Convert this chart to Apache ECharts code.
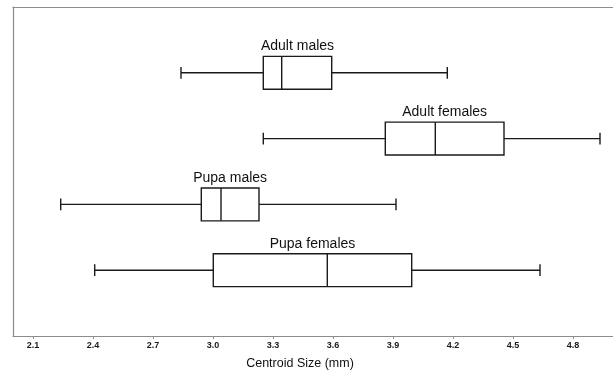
<!DOCTYPE html>
<html>
<head>
<meta charset="utf-8">
<script src="https://cdn.jsdelivr.net/npm/echarts@6/dist/echarts.min.js"></script>
<style>html,body{margin:0;padding:0;background:#fff;}#c{width:613px;height:372px;}</style>
</head>
<body>
<div id="c"></div>
<script>
var groups = ['Adult males', 'Adult females', 'Pupa males', 'Pupa females'];
var whiskerLow = [2.84, 3.2515, 2.2385, 2.4085];
var q1 = [3.2515, 3.8615, 2.9415, 3.0015];
var median = [3.3435, 4.1115, 3.04, 3.5715];
var q3 = [3.5935, 4.455, 3.23, 3.9935];
var whiskerHigh = [4.1715, 4.935, 3.915, 4.635];
var tickValues = [2.1, 2.4, 2.7, 3.0, 3.3, 3.6, 3.9, 4.2, 4.5, 4.8];
var axisTitle = 'Centroid Size (mm)';

var yCats = [''].concat(groups).concat(['']);
var data = groups.map(function (g, i) {
  return [i + 1, whiskerLow[i], q1[i], median[i], q3[i], whiskerHigh[i], g];
});

var chart = echarts.init(document.getElementById('c'), null, {renderer: 'canvas'});
var lineStyle = {stroke: '#1a1a1a', lineWidth: 1.4, fill: null};
var frameColor = '#8c8c8c';

chart.setOption({
  animation: false,
  grid: {left: 13, right: 0, top: 7, bottom: 36, containLabel: false, outerBoundsMode: 'none'},
  xAxis: [{
    type: 'value', min: 2.0, max: 5.0, position: 'bottom',
    axisLine: {show: true, lineStyle: {color: frameColor, width: 1.2}},
    axisTick: {show: true, customValues: tickValues, length: 3, lineStyle: {color: frameColor}},
    axisLabel: {customValues: tickValues, fontSize: 9, fontWeight: 'bold', color: '#1a1a1a', margin: 5,
      fontFamily: 'Liberation Sans', formatter: function (v) { return v.toFixed(1); }},
    splitLine: {show: false},
    name: axisTitle, nameLocation: 'middle', nameGap: 21,
    nameTextStyle: {fontSize: 12.5, color: '#111', fontFamily: 'Liberation Sans', padding: [0, 26, 0, 0]}
  }, {
    type: 'value', min: 2.0, max: 5.0, position: 'top',
    axisLine: {show: true, onZero: false, lineStyle: {color: frameColor, width: 1.2}},
    axisTick: {show: false}, axisLabel: {show: false}, splitLine: {show: false}
  }],
  yAxis: {
    type: 'category', data: yCats, boundaryGap: false, inverse: true,
    axisLine: {show: true, onZero: false, lineStyle: {color: frameColor, width: 1.2}},
    axisTick: {show: false}, axisLabel: {show: false}, splitLine: {show: false}
  },
  series: [{
    type: 'custom',
    xAxisIndex: 0,
    data: data,
    encode: {y: 0, x: [1, 2, 3, 4, 5]},
    renderItem: function (params, api) {
      var c = api.value(0);
      var band = api.size([0, 1])[1];
      var h = band * 0.5;
      var capH = band * 0.18;
      var pLow = api.coord([api.value(1), c]);
      var pQ1 = api.coord([api.value(2), c]);
      var pMed = api.coord([api.value(3), c]);
      var pQ3 = api.coord([api.value(4), c]);
      var pHigh = api.coord([api.value(5), c]);
      var y = pMed[1];
      var top = y - h / 2, bot = y + h / 2;
      return {
        type: 'group',
        children: [
          {type: 'line', shape: {x1: pLow[0], y1: y, x2: pQ1[0], y2: y}, style: lineStyle},
          {type: 'line', shape: {x1: pQ3[0], y1: y, x2: pHigh[0], y2: y}, style: lineStyle},
          {type: 'line', shape: {x1: pLow[0], y1: y - capH / 2, x2: pLow[0], y2: y + capH / 2}, style: lineStyle},
          {type: 'line', shape: {x1: pHigh[0], y1: y - capH / 2, x2: pHigh[0], y2: y + capH / 2}, style: lineStyle},
          {type: 'rect', shape: {x: pQ1[0], y: top, width: pQ3[0] - pQ1[0], height: h}, style: {stroke: '#1a1a1a', lineWidth: 1.4, fill: '#fff'}},
          {type: 'line', shape: {x1: pMed[0], y1: top, x2: pMed[0], y2: bot}, style: lineStyle},
          {type: 'text', x: (pQ1[0] + pQ3[0]) / 2, y: top - 3,
            style: {text: api.value(6), fill: '#111', fontSize: 14, fontFamily: 'Liberation Sans', align: 'center', verticalAlign: 'bottom'}}
        ]
      };
    }
  }]
});
</script>
</body>
</html>
